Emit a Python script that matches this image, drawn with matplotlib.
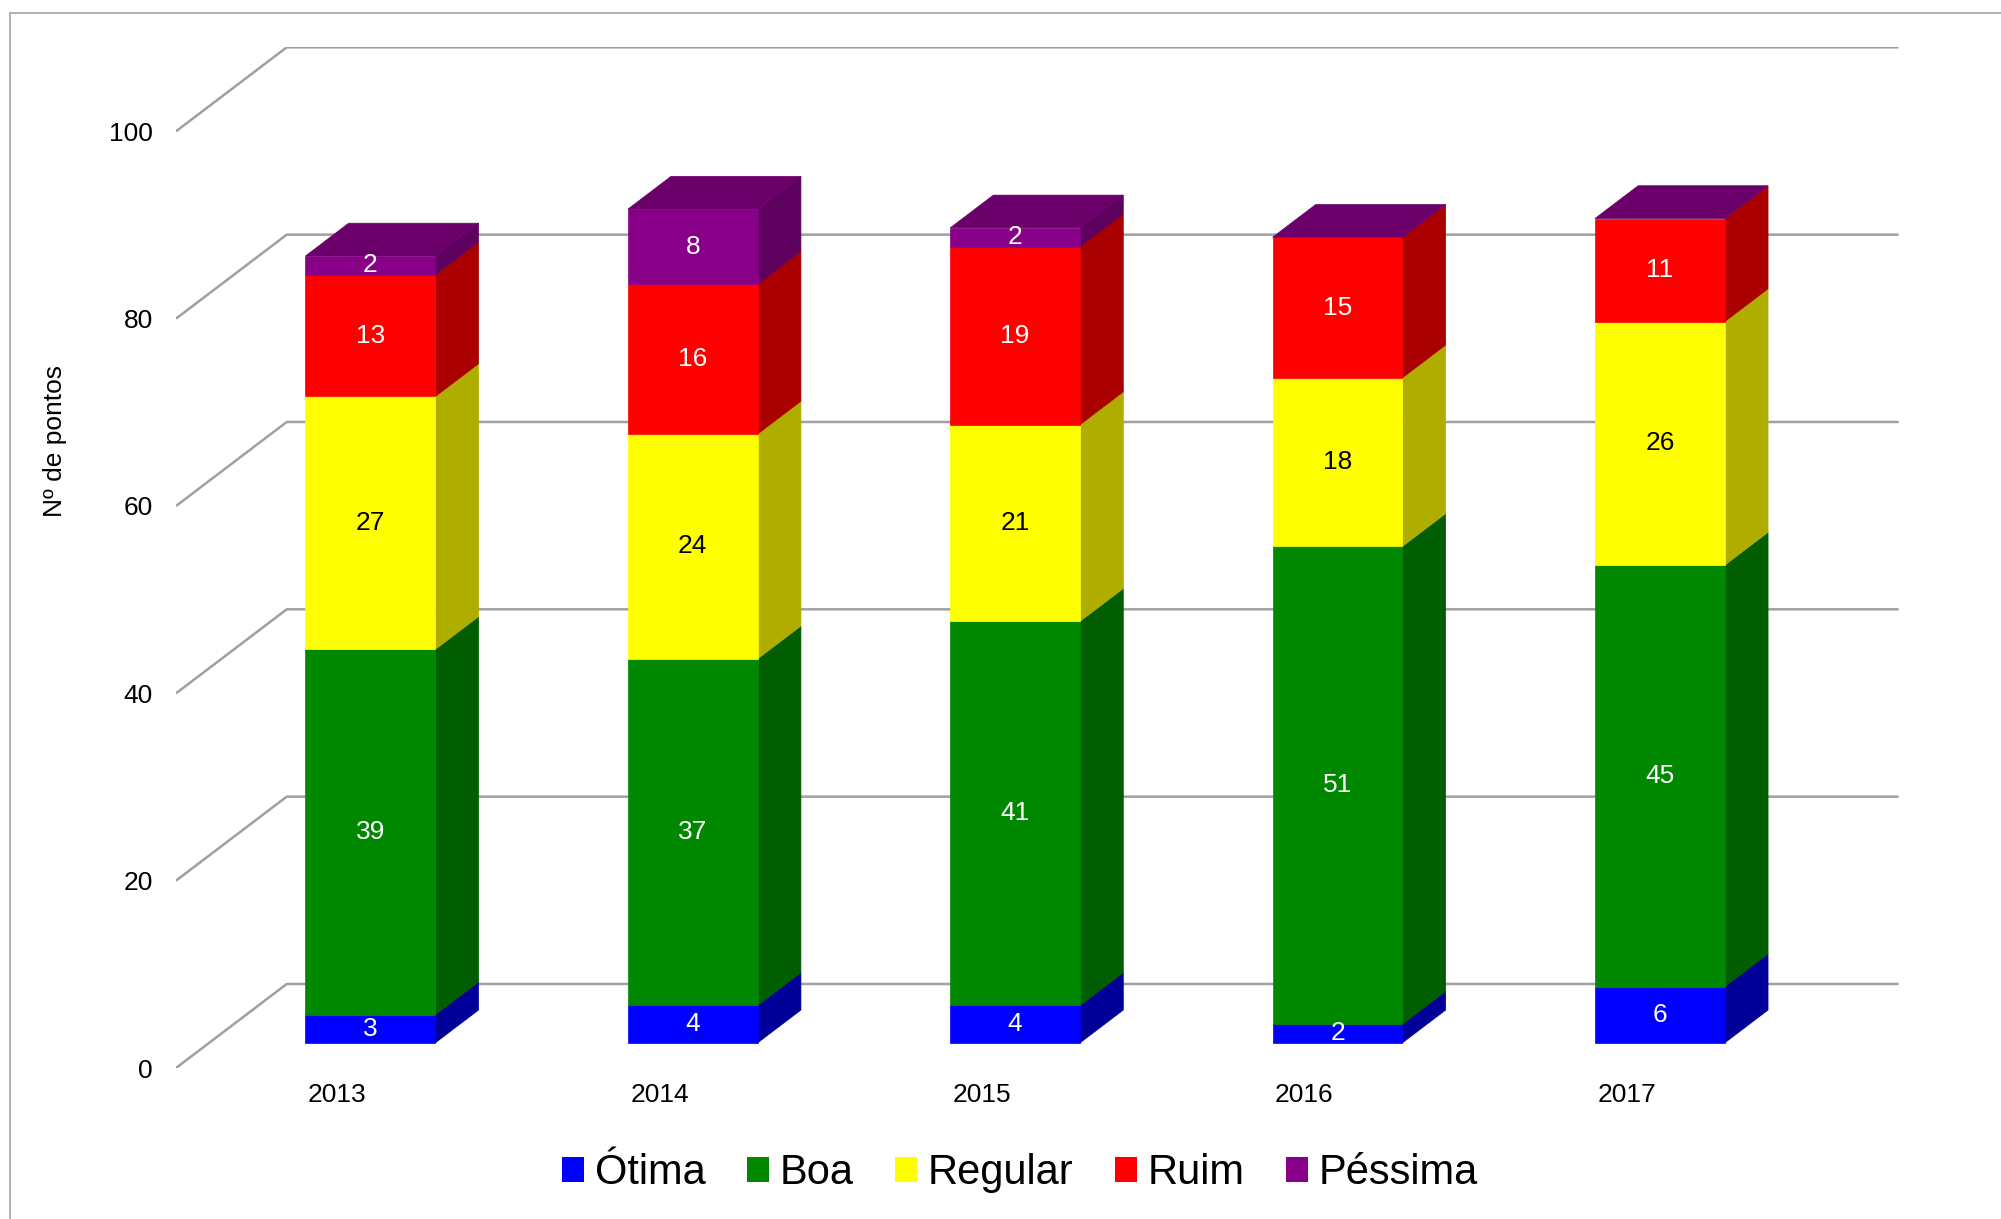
import matplotlib
matplotlib.use("Agg")
import matplotlib.pyplot as plt
from matplotlib.patches import Polygon, Rectangle, Patch
import numpy as np

plt.rcParams['font.family'] = ['Liberation Sans', 'DejaVu Sans']

# ---- data ----
categories = ['2013', '2014', '2015', '2016', '2017']
series_names = ['Ótima', 'Boa', 'Regular', 'Ruim', 'Péssima']
otima = [3, 4, 4, 2, 6]
boa = [39, 37, 41, 51, 45]
regular = [27, 24, 21, 18, 26]
ruim = [13, 16, 19, 15, 11]
pessima = [2, 8, 2, 0, 0]
yticks = [0, 20, 40, 60, 80, 100]
ylabel = 'Nº de pontos'

# ---- style ----
front_colors = ['#0000FF', '#008800', '#FFFF00', '#FF0000', '#880088']
side_colors = ['#000099', '#005E00', '#AFAE00', '#AA0000', '#5E005E']
top_color = '#6B006B'
text_colors = ['white', 'white', 'black', 'white', 'white']
grid_color = '#A0A0A0'

DX = 0.3435   # depth offset in category units
DY = 8.97     # depth offset in value units
z0, z1 = 0.30, 0.69
bw = 0.403

def proj(x, y, z):
    return (x + z * DX, y + z * DY)

W, H = 2001, 1219
fig = plt.figure(figsize=(W / 100, H / 100), dpi=100)
ax = fig.add_axes([176 / W, 1 - 1068 / H, (1898.6 - 176) / W, (1068 - 47.3) / H])
ax.set_xlim(-0.5, 4.5 + DX)
ax.set_ylim(0, 100 + DY)
ax.patch.set_alpha(0)
for s in ax.spines.values():
    s.set_visible(False)

# outer frame
fig.add_artist(Rectangle((10 / W, -0.01), 1.0, 1 - 13 / H + 0.01, transform=fig.transFigure,
                         fill=False, edgecolor='#A6A6A6', linewidth=1.2))

# gridlines (back wall + left wall)
for v in yticks:
    p0 = proj(-0.5, v, 0); p1 = proj(-0.5, v, 1); p2 = proj(4.5, v, 1)
    ax.plot([p0[0], p1[0], p2[0]], [p0[1], p1[1], p2[1]], color=grid_color,
            lw=1.8, solid_capstyle='butt', zorder=1)

series = [otima, boa, regular, ruim, pessima]
x = np.arange(len(categories))
for i, c in enumerate(x):
    xl, xr = c - bw / 2, c + bw / 2
    base = 0
    for k, vals in enumerate(series):
        v = vals[i]
        top = base + v
        if v > 0:
            front = [proj(xl, base, z0), proj(xr, base, z0), proj(xr, top, z0), proj(xl, top, z0)]
            side = [proj(xr, base, z0), proj(xr, base, z1), proj(xr, top, z1), proj(xr, top, z0)]
            ax.add_patch(Polygon(side, closed=True, facecolor=side_colors[k],
                                 edgecolor=side_colors[k], lw=0.5, zorder=2))
            ax.add_patch(Polygon(front, closed=True, facecolor=front_colors[k],
                                 edgecolor=front_colors[k], lw=0.5, zorder=3))
            lx, ly = proj(c, base + v / 2, z0)
            ax.text(lx, ly, str(v), ha='center', va='center', fontsize=19,
                    color=text_colors[k], zorder=5)
        base = top
    topface = [proj(xl, base, z0), proj(xr, base, z0), proj(xr, base, z1), proj(xl, base, z1)]
    ax.add_patch(Polygon(topface, closed=True, facecolor=top_color,
                         edgecolor=top_color, lw=0.5, zorder=4))

ax.set_yticks(yticks)
ax.set_yticklabels([str(t) for t in yticks], fontsize=19)
ax.set_xticks(x)
ax.set_xticklabels(categories, fontsize=19)
ax.tick_params(axis='y', length=0, pad=16.5)
ax.tick_params(axis='x', length=0, pad=11)

fig.text(55 / W, 1 - 441 / H, ylabel, rotation=90, ha='center', va='center', fontsize=19)

handles = [Patch(facecolor=front_colors[k], edgecolor='none') for k in range(5)]
fig.legend(handles, series_names, loc='center', bbox_to_anchor=(0.5098, 1 - 1173 / H),
           ncol=5, frameon=False, fontsize=30, handlelength=0.53, handleheight=0.53,
           handletextpad=0.25, columnspacing=1.0, borderaxespad=0)

fig.savefig('out.png', dpi=100)
